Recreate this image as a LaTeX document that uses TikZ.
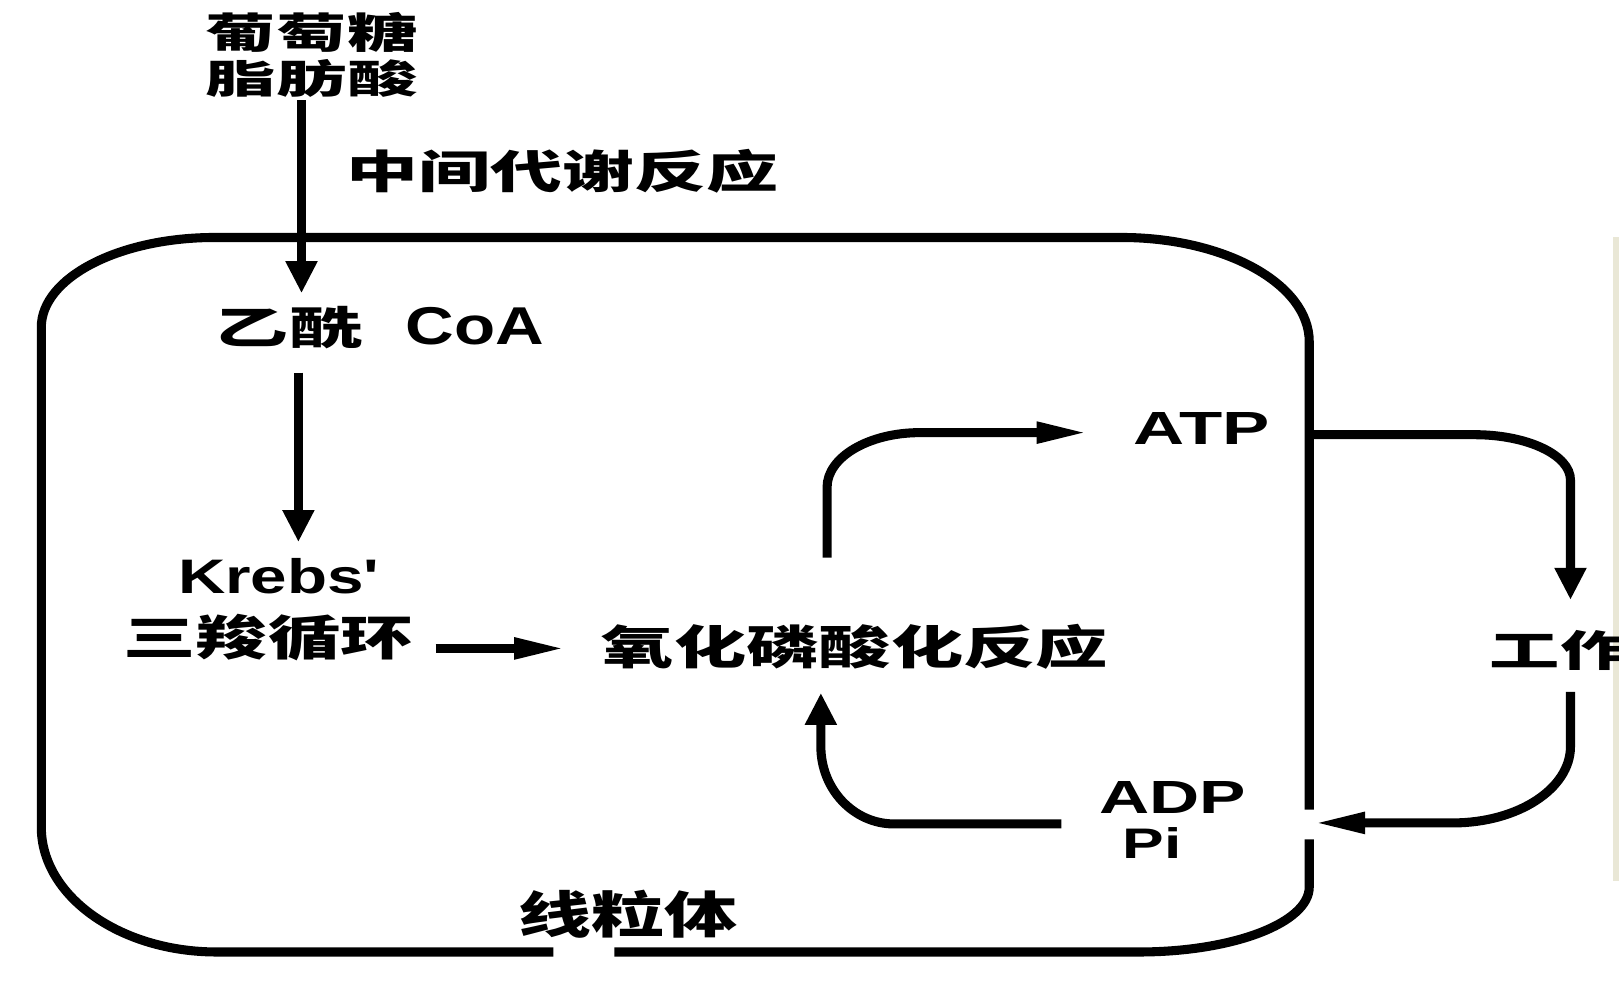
\documentclass[tikz,border=0pt]{standalone}
\usepackage{fontspec}
\usepackage{graphicx}
\usetikzlibrary{arrows.meta}
\newfontfamily\cjk{Noto Sans CJK SC}
\newfontfamily\lat{Liberation Sans}[Ligatures=TeXOff]
\newlength\uu \setlength\uu{0.02cm}
\newcommand\fb[3]{\resizebox{#1\uu}{#2\uu}{#3}}
\definecolor{edgebeige}{RGB}{233,231,214}
\tikzset{
  txt/.style={inner sep=0pt, outer sep=0pt, anchor=center},
  membrane/.style={line width=5pt, line cap=butt},
  flow/.style={line width=5pt},
  vhead/.style={-{Triangle[length=0.62cm,width=0.58cm]}},
  hhead/.style={-{Triangle[length=1.0cm,width=0.38cm]}},
}
\begin{document}
\begin{tikzpicture}[x=0.02cm,y=-0.02cm]
\useasboundingbox (0,0) rectangle (1568,955);
\fill[edgebeige] (1562,230) rectangle (1568,853);
% mitochondrion membrane
\draw[membrane] (595,922) -- (1103,922) arc[start angle=90,end angle=0,x radius=165,y radius=63] -- (1268,813);
\draw[membrane] (1268,784) -- (1268,331) arc[start angle=0,end angle=-90,x radius=182,y radius=101] -- (208,230) arc[start angle=-90,end angle=-180,x radius=168,y radius=87] -- (40,801) arc[start angle=180,end angle=90,x radius=170,y radius=121] -- (536,922);
% texts
\node[txt] (glu) at (302,31) {\fb{205}{35}{\cjk\bfseries 葡萄糖}};
\node[txt] (fa) at (302,76) {\fb{205}{33}{\cjk\bfseries 脂肪酸}};
\node[txt] (inter) at (545,166) {\fb{418}{38}{\cjk\bfseries 中间代谢反应}};
\node[txt] (acoa) at (368,317) {\fb{142}{37}{\cjk\bfseries 乙酰}\hspace{42\uu}\fb{134}{36}{\lat\bfseries CoA}};
\node[txt] (krebs) at (270,558) {\fb{195}{34}{\lat\bfseries Krebs'}};
\node[txt] (tca) at (260,617) {\fb{281}{40}{\cjk\bfseries 三羧循环}};
\node[txt] (oxp) at (828,626) {\fb{490}{39}{\cjk\bfseries 氧化磷酸化反应}};
\node[txt] (atp) at (1164,415) {\fb{132}{31}{\lat\bfseries ATP}};
\node[txt] (adp) at (1136,772) {\fb{142}{31}{\lat\bfseries ADP}};
\node[txt] (pi) at (1116,816) {\fb{57}{30}{\lat\bfseries Pi}};
\node[txt] (mito) at (608,885) {\fb{212}{42}{\cjk\bfseries 线粒体}};
\node[txt] (work) at (1511,630) {\fb{136}{35}{\cjk\bfseries 工作}};
% connectors
\coordinate (a1s) at (292,97);  \coordinate (a1e) at (292,284);
\coordinate (a2s) at (289,361); \coordinate (a2e) at (289,525);
\coordinate (a3s) at (422,628); \coordinate (a3e) at (548,628);
\coordinate (l1s) at (801,540); \coordinate (l1e) at (1054,419);
\coordinate (l2s) at (1268,421); \coordinate (l2e) at (1521,581);
\coordinate (l3s) at (1521,670); \coordinate (l3e) at (1272,797);
\coordinate (l4s) at (1028,798); \coordinate (l4e) at (795,671);
\draw[flow,vhead] (a1s) -- (a1e);
\draw[flow,vhead] (a2s) -- (a2e);
\draw[flow,hhead] (a3s) -- (a3e);
\draw[flow,hhead] (l1s) -- (801,472) arc[start angle=180,end angle=270,x radius=90,y radius=53] -- (l1e);
\draw[flow,vhead] (l2s) -- (1428,421) arc[start angle=-90,end angle=0,x radius=93,y radius=44] -- (l2e);
\draw[flow,hhead] (l3s) -- (1521,723) arc[start angle=0,end angle=90,x radius=114,y radius=74] -- (l3e);
\draw[flow,vhead] (l4s) -- (866,798) arc[start angle=90,end angle=180,x radius=71,y radius=75] -- (l4e);
\end{tikzpicture}
\end{document}
